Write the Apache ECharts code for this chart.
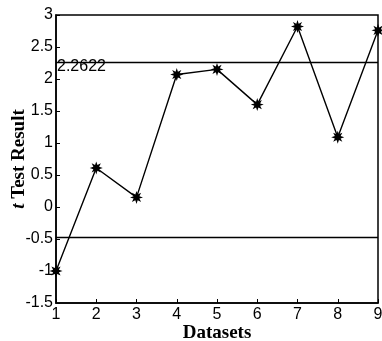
<!DOCTYPE html>
<html><head><meta charset="utf-8">
<script src="https://cdn.jsdelivr.net/npm/echarts@6/dist/echarts.min.js"></script>
<style>html,body{margin:0;padding:0;background:#fff}#c{width:382px;height:341px}</style>
</head><body><div id="c"></div>
<script>
var datasets = [1, 2, 3, 4, 5, 6, 7, 8, 9];
var tValues = [-1.0, 0.61, 0.15, 2.07, 2.15, 1.6, 2.82, 1.09, 2.76];
var upperLine = 2.2622;
var lowerLine = -0.48;
var upperLabel = '2.2622';

function starPath(n, ro, ri) {
  var p = [];
  for (var i = 0; i < n * 2; i++) {
    var r = i % 2 === 0 ? ro : ri;
    var a = Math.PI * i / n - Math.PI / 2;
    p.push((i === 0 ? 'M' : 'L') + (50 + r * Math.cos(a)).toFixed(2) + ' ' + (50 + r * Math.sin(a)).toFixed(2));
  }
  return 'path://' + p.join(' ') + ' Z';
}

var chart = echarts.init(document.getElementById('c'));
chart.setOption({
  animation: false,
  grid: { left: 56, right: 4, top: 15, bottom: 38, containLabel: false, outerBoundsMode: 'none',
    show: true, borderColor: '#000', borderWidth: 1.5, backgroundColor: '#fff' },
  xAxis: {
    type: 'value', min: 1, max: 9, interval: 1,
    name: 'Datasets', nameLocation: 'middle', nameGap: 21, nameMoveOverlap: false,
    nameTextStyle: { fontFamily: 'Liberation Serif', fontWeight: 'bold', fontSize: 19, color: '#000' },
    axisLine: { onZero: false, lineStyle: { color: '#000', width: 1.5 } },
    axisTick: { inside: true, length: 4, lineStyle: { color: '#000' } },
    axisLabel: { fontFamily: 'Liberation Sans', fontSize: 16, color: '#000', margin: 4 },
    splitLine: { show: false }
  },
  yAxis: {
    type: 'value', min: -1.5, max: 3, interval: 0.5,
    name: '{i|t} Test Result', nameLocation: 'middle', nameGap: 27, nameMoveOverlap: false,
    nameTextStyle: { fontFamily: 'Liberation Serif', fontWeight: 'bold', fontSize: 19, color: '#000',
      rich: { i: { fontFamily: 'Liberation Serif', fontWeight: 'bold', fontStyle: 'italic', fontSize: 19, color: '#000' } } },
    axisLine: { show: true, onZero: false, lineStyle: { color: '#000', width: 1.5 } },
    axisTick: { show: true, inside: true, length: 4, lineStyle: { color: '#000' } },
    axisLabel: { fontFamily: 'Liberation Sans', fontSize: 16, color: '#000', margin: 3 },
    splitLine: { show: false }
  },
  series: [{
    type: 'line',
    data: datasets.map(function (d, i) { return [d, tValues[i]]; }),
    lineStyle: { color: '#000', width: 1.4 },
    itemStyle: { color: '#000' },
    symbol: starPath(8, 50, 24),
    symbolSize: 13,
    markLine: {
      silent: true, symbol: 'none',
      lineStyle: { color: '#000', width: 1.4, type: 'solid' },
      data: [
        { yAxis: upperLine, label: { show: true, formatter: upperLabel, position: 'insideStartBottom', distance: [1, -4], fontFamily: 'Liberation Sans', fontSize: 16, color: '#000' } },
        { yAxis: lowerLine, label: { show: false } }
      ]
    },
    z: 3
  }]
});
</script></body></html>
